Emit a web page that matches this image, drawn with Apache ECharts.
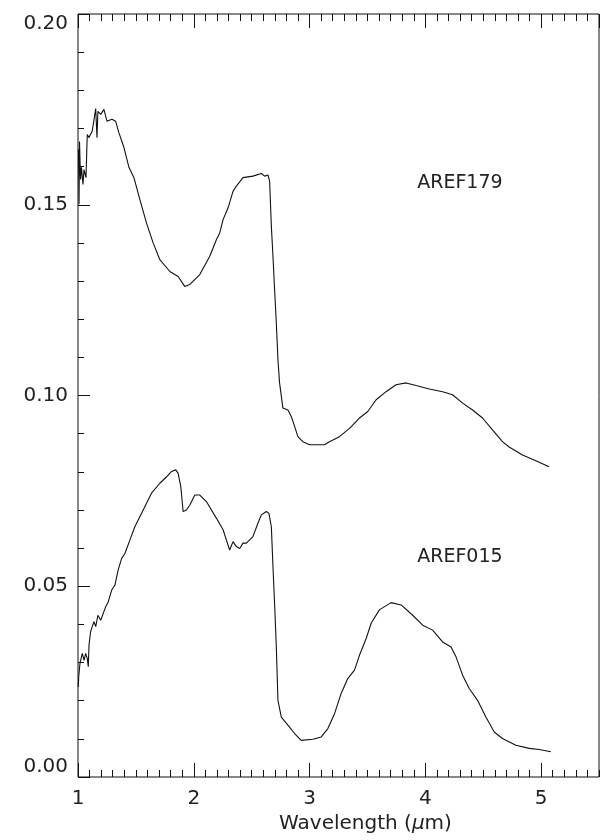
<!DOCTYPE html>
<html>
<head>
<meta charset="utf-8">
<script src="https://cdn.jsdelivr.net/npm/echarts@6/dist/echarts.min.js"></script>
<style>html,body{margin:0;padding:0;background:#fff}#c{width:600px;height:840px}</style>
</head>
<body>
<div id="c"></div>
<script>
// AREF179 spectrum: [wavelength (um), value]
var aref179 = [
[1.004,0.1645],[1.009,0.1501],[1.013,0.1666],[1.022,0.1566],[1.030,0.1598],[1.043,0.1553],[1.052,0.1592],[1.069,0.1571],
[1.080,0.1684],[1.095,0.1676],[1.123,0.1693],[1.153,0.1752],[1.164,0.1676],[1.172,0.1745],[1.196,0.1737],[1.224,0.1750],
[1.250,0.1719],[1.293,0.1724],[1.325,0.1719],[1.353,0.1689],[1.397,0.1650],[1.440,0.1598],[1.483,0.1571],[1.534,0.1514],
[1.592,0.1452],[1.649,0.1400],[1.707,0.1356],[1.793,0.1325],[1.865,0.1312],[1.922,0.1286],[1.966,0.1291],[2.052,0.1317],
[2.138,0.1365],[2.196,0.1409],[2.224,0.1426],[2.253,0.1461],[2.296,0.1492],[2.339,0.1535],[2.368,0.1549],[2.425,0.1571],
[2.511,0.1575],[2.584,0.1582],[2.612,0.1575],[2.641,0.1578],[2.655,0.1562],[2.670,0.1444],[2.684,0.1365],[2.698,0.1278],
[2.713,0.1190],[2.727,0.1094],[2.741,0.1033],[2.770,0.0967],[2.813,0.0962],[2.842,0.0945],[2.871,0.0919],[2.899,0.0892],
[2.942,0.0879],[3.000,0.0871],[3.129,0.0871],[3.172,0.0879],[3.259,0.0892],[3.345,0.0914],[3.431,0.0941],[3.503,0.0958],
[3.575,0.0989],[3.661,0.1010],[3.747,0.1028],[3.834,0.1033],[3.920,0.1026],[4.034,0.1017],[4.149,0.1010],[4.235,0.1002],
[4.322,0.0980],[4.408,0.0962],[4.494,0.0941],[4.580,0.0910],[4.666,0.0879],[4.724,0.0865],[4.839,0.0844],[4.954,0.0829],
[5.069,0.0813]
];
// AREF015 spectrum: [wavelength (um), value]
var aref015 = [
[1.003,0.0236],[1.006,0.0262],[1.017,0.0298],[1.037,0.0324],[1.052,0.0306],[1.066,0.0324],[1.080,0.0311],[1.089,0.0289],
[1.095,0.0346],[1.109,0.0381],[1.123,0.0394],[1.138,0.0407],[1.153,0.0394],[1.172,0.0424],[1.196,0.0411],[1.210,0.0407],
[1.239,0.0446],[1.261,0.0459],[1.291,0.0490],[1.319,0.0503],[1.347,0.0543],[1.377,0.0573],[1.405,0.0586],[1.448,0.0621],
[1.491,0.0656],[1.534,0.0682],[1.578,0.0709],[1.635,0.0744],[1.707,0.0770],[1.765,0.0787],[1.808,0.0801],[1.845,0.0805],
[1.865,0.0796],[1.888,0.0761],[1.908,0.0696],[1.937,0.0700],[1.966,0.0713],[2.009,0.0739],[2.052,0.0739],[2.109,0.0722],
[2.196,0.0678],[2.253,0.0648],[2.282,0.0621],[2.310,0.0595],[2.339,0.0617],[2.368,0.0604],[2.397,0.0599],[2.425,0.0613],
[2.454,0.0613],[2.511,0.0630],[2.554,0.0665],[2.584,0.0687],[2.627,0.0696],[2.649,0.0691],[2.670,0.0656],[2.684,0.0551],
[2.698,0.0455],[2.713,0.0341],[2.727,0.0201],[2.756,0.0157],[2.813,0.0136],[2.871,0.0114],[2.928,0.0096],[3.028,0.0099],
[3.101,0.0105],[3.158,0.0127],[3.216,0.0166],[3.273,0.0219],[3.330,0.0258],[3.388,0.0280],[3.431,0.0319],[3.489,0.0363],
[3.532,0.0403],[3.603,0.0438],[3.704,0.0457],[3.791,0.0451],[3.891,0.0424],[3.977,0.0398],[4.063,0.0385],[4.149,0.0354],
[4.222,0.0341],[4.265,0.0315],[4.322,0.0267],[4.379,0.0232],[4.451,0.0201],[4.523,0.0157],[4.595,0.0118],[4.666,0.0101],
[4.782,0.0083],[4.897,0.0075],[4.983,0.0072],[5.084,0.0066]
];
var seriesNames = ['AREF179', 'AREF015'];
var xTickLabels = [1, 2, 3, 4, 5];
var yTickLabels = ['0.00', '0.05', '0.10', '0.15', '0.20'];
var xTitle = 'Wavelength ';

var FONT = 'DejaVu Sans';
var INK = '#111';
var chart = echarts.init(document.getElementById('c'), null, {renderer: 'canvas'});

function xAxisDef(pos, major) {
  return {
    type: 'value', position: pos, min: 1, max: 5.5,
    interval: major ? 1 : 0.1,
    axisLine: {show: false},
    splitLine: {show: false},
    axisTick: {show: true, inside: true, length: major ? 14 : 7, lineStyle: {color: INK, width: 1}},
    axisLabel: (major && pos === 'bottom') ? {
      show: true, margin: 12, fontFamily: FONT, fontSize: 20, color: '#222', showMaxLabel: false,
      formatter: function (v) { return xTickLabels.indexOf(v) >= 0 ? String(v) : ''; }
    } : {show: false},
    name: (major && pos === 'bottom') ? '{a|' + xTitle + '(}{mu|\u03bc}{a|m)}' : '',
    nameLocation: 'middle', nameGap: 34,
    nameTextStyle: {
      padding: [0, 0, 0, 54],
      rich: {
        a: {fontFamily: FONT, fontSize: 20, color: '#222'},
        mu: {fontFamily: FONT, fontSize: 20, color: '#222', fontStyle: 'italic'}
      }
    }
  };
}
function yAxisDef(major) {
  return {
    type: 'value', position: 'left', min: 0, max: 0.2,
    interval: major ? 0.05 : 0.01,
    axisLine: {show: false},
    splitLine: {show: false},
    axisTick: {show: true, inside: true, length: major ? 12 : 6, lineStyle: {color: INK, width: 1}},
    axisLabel: major ? {
      show: true, margin: 10, fontFamily: FONT, fontSize: 20, color: '#222',
      verticalAlignMinLabel: 'bottom', verticalAlignMaxLabel: 'top',
      formatter: function (v) { return yTickLabels[Math.round(v / 0.05)]; }
    } : {show: false}
  };
}

chart.setOption({
  animation: false,
  backgroundColor: '#fff',
  grid: {left: 78, right: 1, top: 14, bottom: 63, show: true, borderColor: INK, borderWidth: 1, containLabel: false},
  xAxis: [xAxisDef('bottom', true), xAxisDef('bottom', false), xAxisDef('top', true), xAxisDef('top', false)],
  yAxis: [yAxisDef(true), yAxisDef(false)],
  series: [
    {
      name: seriesNames[0], type: 'line', data: aref179, showSymbol: false, symbol: 'none',
      xAxisIndex: 0, yAxisIndex: 0,
      lineStyle: {color: INK, width: 1.1},
      markPoint: {
        symbol: 'circle', symbolSize: 0,
        label: {show: true, position: 'inside', align: 'left', verticalAlign: 'middle',
          formatter: seriesNames[0], fontFamily: FONT, fontSize: 19, color: '#222'},
        data: [{coord: [3.93, 0.1557]}]
      }
    },
    {
      name: seriesNames[1], type: 'line', data: aref015, showSymbol: false, symbol: 'none',
      xAxisIndex: 0, yAxisIndex: 0,
      lineStyle: {color: INK, width: 1.1},
      markPoint: {
        symbol: 'circle', symbolSize: 0,
        label: {show: true, position: 'inside', align: 'left', verticalAlign: 'middle',
          formatter: seriesNames[1], fontFamily: FONT, fontSize: 19, color: '#222'},
        data: [{coord: [3.93, 0.0576]}]
      }
    }
  ]
});
</script>
</body>
</html>
